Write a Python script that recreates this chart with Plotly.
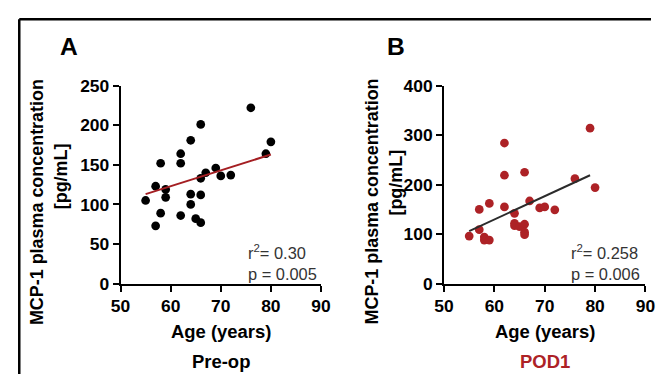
import plotly.graph_objects as go

# ---- data ----
age_pre = [55, 57, 57, 58, 58, 59, 59, 62, 62, 62, 64, 64, 64, 65, 66, 66, 66, 66, 67, 69, 70, 72, 76, 79, 80]
mcp_pre = [105, 123, 73, 152, 89, 119, 109, 164, 152, 86, 181, 113, 100, 82, 201, 133, 112, 77, 140, 146, 136, 137, 222, 164, 179]
fit_pre_x = [55, 80]
fit_pre_y = [113, 163]

age_pod = [55, 57, 57, 58, 58, 59, 59, 62, 62, 62, 64, 64, 64, 65, 66, 66, 66, 66, 67, 69, 70, 72, 76, 79, 80]
mcp_pod = [96, 150, 109, 94, 88, 162, 88, 284, 219, 155, 142, 122, 117, 115, 225, 120, 104, 99, 167, 153, 155, 149, 212, 314, 194]
fit_pod_x = [55, 79]
fit_pod_y = [106, 219]

x_ticks = [50, 60, 70, 80, 90]
y_ticks_a = [0, 50, 100, 150, 200, 250]
y_ticks_b = [0, 100, 200, 300, 400]

W, H = 653, 376
SX, SY = 0.977, 0.961   # page-to-picture scale observed in earlier renders
PAD = 16
RED = "#ad2226"
LINE_RED = "#a41e22"
FONT = "Liberation Sans, Arial, sans-serif"


def X(px):
    return (px / SX - PAD) / W


def Y(py):
    return 1 - (py / SY - PAD) / H


K = 1.025  # size compensation
fig = go.Figure()
fig.add_trace(go.Scatter(x=age_pre, y=mcp_pre, mode="markers",
                         marker=dict(color="black", size=8.5 * K), xaxis="x", yaxis="y",
                         showlegend=False, cliponaxis=False))
fig.add_trace(go.Scatter(x=fit_pre_x, y=fit_pre_y, mode="lines",
                         line=dict(color=LINE_RED, width=2), xaxis="x", yaxis="y",
                         showlegend=False))
fig.add_trace(go.Scatter(x=age_pod, y=mcp_pod, mode="markers",
                         marker=dict(color=RED, size=8.5 * K), xaxis="x2", yaxis="y2",
                         showlegend=False, cliponaxis=False))
fig.add_trace(go.Scatter(x=fit_pod_x, y=fit_pod_y, mode="lines",
                         line=dict(color="#2b2b2b", width=2), xaxis="x2", yaxis="y2",
                         showlegend=False))

tickfont = dict(family=FONT, size=17 * K, color="black", weight="bold")
common_x = dict(range=[50, 90], tickvals=x_ticks, showline=True, linecolor="black",
                linewidth=1.8, ticks="outside", ticklen=6, tickwidth=1.8,
                tickcolor="black", showgrid=False, zeroline=False, tickfont=tickfont,
                fixedrange=True)
common_y = dict(showline=True, linecolor="black", linewidth=1.8, ticks="outside",
                ticklen=6, tickwidth=1.8, tickcolor="black", showgrid=False,
                zeroline=False, tickfont=tickfont, fixedrange=True)

ydom = [Y(285), Y(84)]
fig.update_layout(
    width=W, height=H,
    margin=dict(l=0, r=0, t=0, b=0),
    paper_bgcolor="white", plot_bgcolor="white",
    font=dict(family=FONT, color="black"),
    xaxis=dict(domain=[X(119), X(321)], anchor="y", **common_x),
    yaxis=dict(domain=ydom, anchor="x", range=[0, 250], tickvals=y_ticks_a, **common_y),
    xaxis2=dict(domain=[X(445), X(648)], anchor="y2", **common_x),
    yaxis2=dict(domain=ydom, anchor="x2", range=[0, 400], tickvals=y_ticks_b, **common_y),
)

bold = lambda s, c="black": dict(family=FONT, size=s * K, color=c, weight="bold")
ann = []


def add(text, x, y, font, angle=0, xanchor="center", yanchor="middle", align="center"):
    ann.append(dict(text=text, x=X(x), y=Y(y), xref="paper", yref="paper",
                    showarrow=False, font=font, textangle=angle,
                    xanchor=xanchor, yanchor=yanchor, align=align))


add("A", 67, 44, bold(24))
add("B", 397, 44, bold(24))
for cx in (35, 372):
    add("MCP-1 plasma concentration", cx, 202, bold(17.5), angle=-90)
add("[pg/mL]", 59, 176, bold(17.5), angle=-90)
add("[pg/mL]", 397, 182, bold(17.5), angle=-90)
add("Age (years)", 220, 334, bold(18))
add("Age (years)", 547, 334, bold(18))
add("Pre-op", 220, 364, bold(18))
add("POD1", 547, 364, bold(18, RED))
stat_font = dict(family=FONT, size=16 * K, color="#333333")
add("r<sup>2</sup>= 0.30<br>p = 0.005", 245, 264, stat_font, xanchor="left", align="left")
add("r<sup>2</sup>= 0.258<br>p = 0.006", 571, 264, stat_font, xanchor="left", align="left")
fig.update_layout(annotations=ann)

# outer frame: left and top edges, as close to the corner as the figure allows
fx = max(X(6.5), 1.3 / W)
fy = min(Y(12.5), 1 - 1.3 / H)
fig.add_shape(type="line", xref="paper", yref="paper", x0=fx, x1=fx,
              y0=0, y1=fy, line=dict(color="black", width=2.5))
fig.add_shape(type="line", xref="paper", yref="paper", x0=fx, x1=1,
              y0=fy, y1=fy, line=dict(color="black", width=2.5))

fig.write_html("out.html", config={"displayModeBar": False})
